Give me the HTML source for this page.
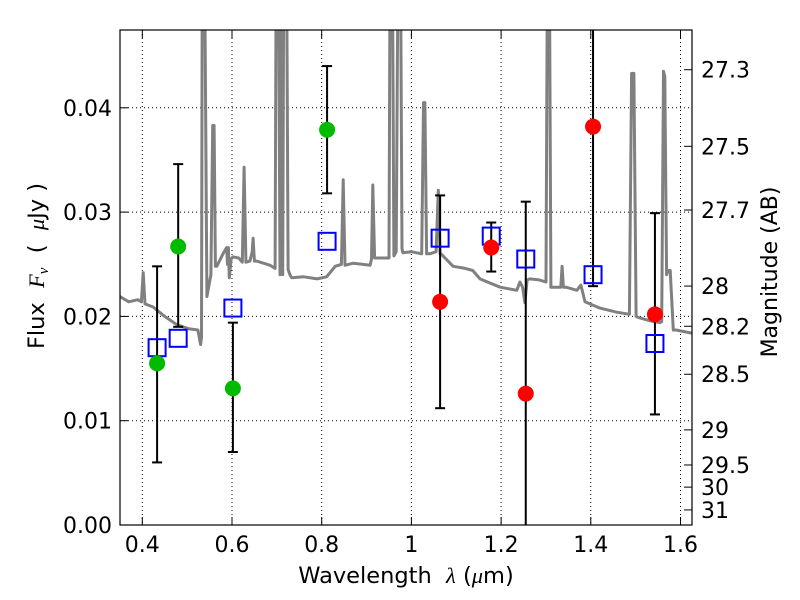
<!DOCTYPE html>
<html><head><meta charset="utf-8"><style>
html,body{margin:0;padding:0;background:#fff;}
svg{display:block;font-family:"DejaVu Sans","Liberation Sans",sans-serif;}
text{white-space:pre;}
</style></head><body>
<svg id="chart" width="800" height="600" viewBox="0 0 800 600">
<defs><clipPath id="clip"><rect x="120" y="30" width="572" height="495"/></clipPath></defs>
<g id="grid"></g>
<g id="spec" clip-path="url(#clip)"></g>
<g id="marks" clip-path="url(#clip)"></g>
<rect x="120" y="30" width="572" height="495" fill="none" stroke="#000" stroke-width="1.2"/>
<g id="axes"></g>
<text x="406" y="583" font-size="22.5" text-anchor="middle">Wavelength&#160;&#160;<tspan font-style="italic" font-family="Liberation Serif, serif">λ</tspan>&#160;(<tspan font-style="italic" font-family="Liberation Serif, serif">μ</tspan>m)</text>
<text transform="translate(44,266) rotate(-90)" font-size="22.5" text-anchor="middle">Flux&#160;&#160;<tspan font-style="italic" font-family="Liberation Serif, serif">F<tspan font-size="15" dy="4">ν</tspan></tspan><tspan dy="-4">&#160;&#160;(&#160;&#160;</tspan><tspan font-style="italic" font-family="Liberation Serif, serif">μ</tspan>Jy&#160;)</text>
<text transform="translate(777,272) rotate(-90)" font-size="22" text-anchor="middle">Magnitude (AB)</text>
</svg>
<script>
const specLam=[0.35,0.37,0.39,0.398,0.402,0.406,0.424,0.45,0.477,0.505,0.524,0.530,0.532,0.534,0.538,0.544,0.553,0.557,0.560,0.563,0.566,0.58,0.588,0.590,0.592,0.594,0.598,0.602,0.615,0.623,0.627,0.631,0.640,0.645,0.647,0.650,0.655,0.67,0.685,0.696,0.699,0.703,0.707,0.710,0.713,0.716,0.721,0.725,0.729,0.733,0.76,0.79,0.811,0.83,0.844,0.848,0.852,0.87,0.89,0.908,0.911,0.914,0.918,0.92,0.945,0.950,0.953,0.957,0.961,0.966,0.971,0.975,0.979,0.981,1.0,1.023,1.027,1.030,1.034,1.041,1.055,1.060,1.064,1.066,1.093,1.12,1.137,1.153,1.175,1.198,1.235,1.242,1.248,1.253,1.258,1.264,1.285,1.300,1.304,1.307,1.311,1.32,1.333,1.336,1.339,1.345,1.369,1.378,1.387,1.42,1.458,1.486,1.491,1.496,1.501,1.506,1.53,1.554,1.558,1.562,1.565,1.569,1.572,1.577,1.584,1.59,1.625];
const specF=[0.0219,0.0214,0.0216,0.0214,0.0242,0.0212,0.0209,0.0200,0.0192,0.0188,0.0187,0.0173,0.0180,0.060,0.060,0.0219,0.0240,0.0383,0.0383,0.0248,0.0248,0.0260,0.0266,0.0250,0.0266,0.0237,0.0255,0.0257,0.0256,0.0252,0.0343,0.0252,0.0253,0.0262,0.0275,0.0253,0.0253,0.0251,0.0249,0.0246,0.060,0.060,0.0240,0.060,0.0240,0.060,0.060,0.0245,0.0240,0.0237,0.0238,0.0236,0.0238,0.0248,0.0250,0.0331,0.0249,0.0251,0.0250,0.0249,0.0255,0.0326,0.0256,0.0256,0.0256,0.0256,0.060,0.060,0.0258,0.0262,0.060,0.060,0.0265,0.0261,0.0262,0.0260,0.0405,0.0405,0.0260,0.0260,0.0262,0.0321,0.0260,0.0260,0.0248,0.0246,0.0244,0.0236,0.0232,0.0228,0.0225,0.0233,0.0228,0.0213,0.0235,0.0236,0.0235,0.0233,0.060,0.060,0.0228,0.0228,0.0228,0.0248,0.0228,0.0228,0.0225,0.0230,0.0214,0.0208,0.0204,0.0202,0.0433,0.0433,0.0200,0.0199,0.0196,0.0194,0.0195,0.0435,0.0430,0.0240,0.0244,0.0244,0.0187,0.0187,0.0184];
const photLam=[0.433,0.480,0.602,0.812,1.064,1.178,1.255,1.405,1.543];
const greenF=[0.0155,0.0267,0.0131,0.0379,null,null,null,null,null];
const redF=[null,null,null,null,0.0214,0.0266,0.0126,0.0382,0.0202];
const errHi=[0.0248,0.0346,0.0194,0.0440,0.0316,0.0290,0.0310,0.060,0.0299];
const errLo=[0.0060,0.0190,0.0070,0.0318,0.0112,0.0243,-0.005,0.0229,0.0106];
const modelF=[0.0170,0.0179,0.0208,0.0272,0.0275,0.0277,0.0255,0.0240,0.0174];
const xTicks=[0.4,0.6,0.8,1,1.2,1.4,1.6];
const yTicks=[0,0.01,0.02,0.03,0.04];
const magTicks=[27.3,27.5,27.7,28,28.2,28.5,29,29.5,30,31];

const NS="http://www.w3.org/2000/svg";
const X=l=>142.3+(l-0.4)*448.5;
const Y=f=>525-f*10430;
function mk(tag,attrs,parent){const e=document.createElementNS(NS,tag);for(const k in attrs)e.setAttribute(k,attrs[k]);parent.appendChild(e);return e;}
const grid=document.getElementById('grid'),spec=document.getElementById('spec'),marks=document.getElementById('marks'),axes=document.getElementById('axes');

xTicks.forEach(t=>{
  const x=X(t);
  const g=mk('line',{x1:x,x2:x,y1:30,y2:525,stroke:'#000','stroke-width':1,'stroke-dasharray':'1,3'},grid);
  
  
  mk('line',{x1:x,x2:x,y1:525,y2:517,stroke:'#000'},axes);
  mk('line',{x1:x,x2:x,y1:30,y2:38,stroke:'#000'},axes);
  const tx=mk('text',{x:x,y:552,'font-size':22,'text-anchor':'middle'},axes);
  tx.textContent=String(t);
  
  
});
yTicks.forEach(t=>{
  const y=Y(t);
  const g=mk('line',{x1:120,x2:692,y1:y,y2:y,stroke:'#000','stroke-width':1,'stroke-dasharray':'1,3'},grid);
  
  
  mk('line',{x1:120,x2:128,y1:y,y2:y,stroke:'#000'},axes);
  const tx=mk('text',{x:112,y:y+8,'font-size':22,'text-anchor':'end'},axes);
  tx.textContent=t.toFixed(2);
  
  
});
magTicks.forEach(m=>{
  const y=Y(Math.pow(10,(23.9-m)/2.5));
  mk('line',{x1:692,x2:684,y1:y,y2:y,stroke:'#000'},axes);
  const tx=mk('text',{x:701,y:y+8,'font-size':22},axes);
  tx.textContent=String(m);
  
  
});

const pts=specLam.map((l,i)=>X(l).toFixed(1)+','+Y(specF[i]).toFixed(1)).join(' ');
const pl=mk('polyline',{points:pts,fill:'none',stroke:'#808080','stroke-width':3,'stroke-linejoin':'round'},spec);



photLam.forEach((l,i)=>{
  const x=X(l);
  const e=mk('g',{},marks);
  
  
  mk('line',{x1:x,x2:x,y1:Y(errHi[i]),y2:Y(errLo[i]),stroke:'#000','stroke-width':2},e);
  mk('line',{x1:x-5,x2:x+5,y1:Y(errHi[i]),y2:Y(errHi[i]),stroke:'#000','stroke-width':2},e);
  mk('line',{x1:x-5,x2:x+5,y1:Y(errLo[i]),y2:Y(errLo[i]),stroke:'#000','stroke-width':2},e);
});
photLam.forEach((l,i)=>{
  const x=X(l);
  const sq=mk('rect',{x:x-8.5,y:Y(modelF[i])-8.5,width:17,height:17,fill:'none',stroke:'#0000ff','stroke-width':2},marks);
  
  
  if(greenF[i]!=null){
    const c=mk('circle',{cx:x,cy:Y(greenF[i]),r:8,fill:'#00bb00'},marks);
    
    
  }
  if(redF[i]!=null){
    const c=mk('circle',{cx:x,cy:Y(redF[i]),r:8,fill:'#ff0000'},marks);
    
    
  }
});
</script>
</body></html>
